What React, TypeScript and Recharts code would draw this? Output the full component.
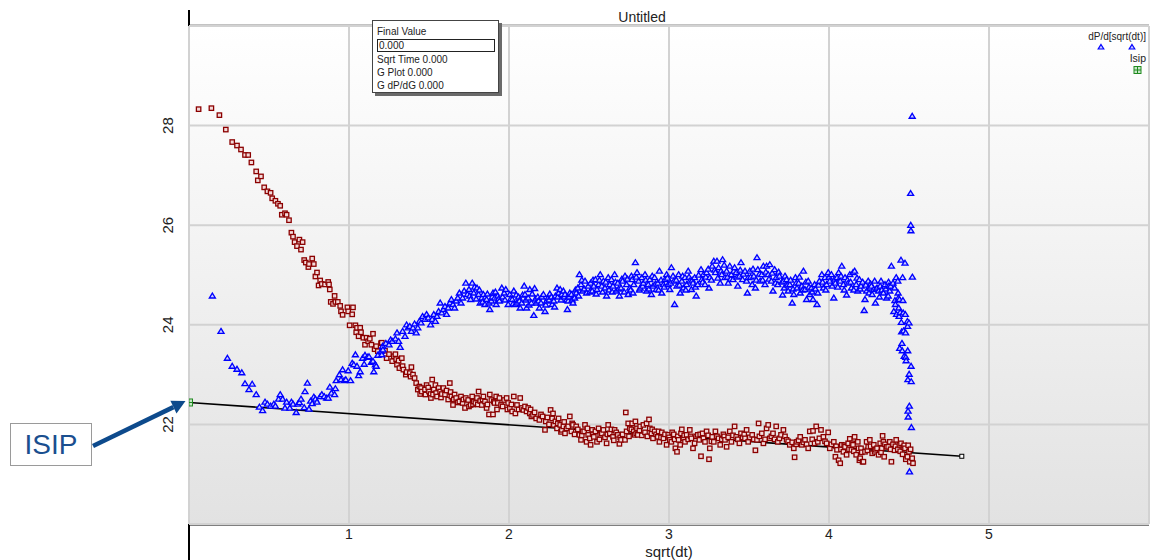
import React from 'react';
import { ScatterChart, Scatter, XAxis, YAxis, CartesianGrid } from 'recharts';

const pressurePoints: [number, number][] = [
  [0.06,28.33],[0.14,28.35],[0.19,28.21],[0.23,27.92],[0.27,27.67],[0.30,27.6],[0.325,27.52],[0.35,27.41],[0.37,27.41],[0.39,27.26],[0.42,27.08],[0.43,26.9],[0.45,26.98],[0.47,26.76],[0.49,26.68],[0.51,26.65],[0.52,26.54],[0.54,26.49],[0.556,26.43],[0.57,26.39],[0.58,26.21],[0.60,26.24],[0.61,26.21],[0.625,26.1],[0.64,25.85],[0.65,25.77],[0.66,25.66],[0.675,25.58],[0.69,25.71],[0.70,25.51],[0.71,25.66],
  [0.72,25.30],[0.73,25.25],[0.746,25.16],[0.75,25.22],[0.77,25.33],[0.78,25.22],[0.79,24.97],[0.80,25.05],[0.81,24.79],[0.82,24.89],[0.83,24.82],[0.85,24.81],[0.87,24.86],[0.875,24.81],[0.88,24.71],[0.886,24.46],[0.90,24.42],[0.91,24.58],[0.915,24.46],[0.93,24.46],[0.945,24.38],[0.95,24.27],[0.96,24.2],[0.99,24.35],[0.995,24.27],[1.004,23.99],[1.02,24.21],[1.025,24.35],[1.04,23.99],[1.045,23.85],[1.05,23.94],[1.06,23.77],[1.07,23.94],[1.075,23.85],[1.09,23.74],[1.10,23.6],[1.11,23.74],[1.12,23.67],[1.13,23.72],[1.14,23.6],[1.15,23.82],[1.16,23.51],[1.17,23.57],[1.18,23.47],[1.20,23.63],[1.205,23.64],[1.225,23.48],[1.235,23.33],[1.25,23.41],[1.27,23.27],[1.28,23.37],[1.29,23.41],[1.295,23.31],[1.30,23.2],[1.31,23.28],[1.315,23.13],[1.33,23.33],[1.335,23.17],[1.34,23.1],[1.355,23.0],[1.36,23.05],[1.38,23.03],[1.385,22.96],[1.39,23.15],[1.40,23.0],[1.41,22.93],
  [1.42,22.83],[1.43,22.7],[1.44,22.76],[1.445,22.61],[1.45,22.73],[1.455,22.66],[1.475,22.7],[1.478,22.6],[1.485,22.79],[1.495,22.74],[1.50,22.66],[1.51,22.61],[1.512,22.53],[1.52,22.9],[1.525,22.6],[1.53,22.7],[1.54,22.79],[1.545,22.63],[1.55,22.56],[1.56,22.73],[1.57,22.66],[1.575,22.54],[1.58,22.61],[1.59,22.73],[1.60,22.6],[1.61,22.68],[1.62,22.5],[1.63,22.83],[1.635,22.65],[1.64,22.56],[1.65,22.39],[1.655,22.5],[1.66,22.6],[1.67,22.53],[1.68,22.44],[1.69,22.46],[1.70,22.56],[1.71,22.43],[1.715,22.5],[1.725,22.33],[1.73,22.53],[1.745,22.49],[1.75,22.36],[1.76,22.39],[1.77,22.56],[1.775,22.4],[1.78,22.46],[1.79,22.43],[1.80,22.53],[1.805,22.4],[1.81,22.66],[1.82,22.47],[1.83,22.39],[1.835,22.5],[1.84,22.56],[1.85,22.46],[1.86,22.33],[1.865,22.4],[1.875,22.2],[1.88,22.6],[1.89,22.49],[1.90,22.2],[1.905,22.46],[1.91,22.43],[1.92,22.56],[1.925,22.3],[1.93,22.43],[1.94,22.53],[1.95,22.39],[1.96,22.36],[1.97,22.49],[1.985,22.53],[1.99,22.3],[1.995,22.43],
  [2.005,22.33],[2.015,22.4],[2.02,22.26],[2.03,22.56],[2.04,22.22],[2.05,22.39],[2.06,22.3],[2.07,22.53],[2.08,22.33],[2.09,22.29],[2.10,22.36],[2.11,22.26],[2.12,22.33],[2.13,22.22],[2.135,22.3],[2.14,22.16],[2.15,22.19],[2.16,22.24],[2.17,22.12],[2.19,22.09],[2.20,22.2],[2.21,22.16],[2.225,21.89],[2.23,22.06],[2.24,22.14],[2.25,22.0],[2.26,22.29],[2.27,22.12],[2.275,22.22],[2.28,21.99],[2.29,22.06],[2.30,21.92],[2.305,22.02],[2.31,22.12],[2.32,21.99],[2.325,21.85],[2.33,21.89],[2.34,21.96],[2.345,22.05],[2.35,21.82],[2.36,21.92],[2.37,21.96],[2.38,22.16],[2.39,21.86],[2.395,22.02],[2.40,21.99],[2.41,21.8],[2.42,21.96],[2.43,21.9],[2.44,21.79],[2.45,21.69],[2.455,21.78],[2.46,21.86],[2.47,21.86],[2.475,21.99],[2.485,21.65],[2.49,21.92],[2.495,21.79],[2.505,21.72],[2.51,21.59],[2.52,21.89],[2.525,21.8],[2.53,21.75],[2.54,21.86],[2.55,21.65],[2.56,21.92],[2.565,21.7],[2.57,21.79],[2.58,21.82],[2.59,21.89],[2.60,21.74],[2.61,21.62],[2.615,21.8],[2.62,21.99],[2.63,21.82],[2.64,21.9],[2.65,21.75],[2.655,21.68],[2.66,21.89],[2.67,21.84],[2.68,21.79],[2.69,21.61],[2.695,21.74],[2.70,21.69],[2.71,21.8],[2.725,21.69],[2.73,22.24],[2.735,21.86],[2.745,22.02],[2.75,21.76],[2.755,21.92],[2.765,21.9],[2.77,22.02],[2.78,21.86],[2.785,21.79],[2.79,22.06],[2.795,21.82],[2.80,21.92],[2.805,21.79],[2.815,21.88],[2.82,21.96],[2.83,21.78],[2.84,21.99],[2.85,21.84],[2.86,22.02],[2.865,21.76],[2.875,22.1],[2.88,21.92],[2.89,21.82],[2.895,21.9],[2.90,21.72],[2.91,21.86],[2.92,21.8],[2.93,21.75],[2.935,21.86],[2.94,21.65],[2.95,21.74],[2.955,21.84],[2.965,21.72],[2.975,21.8],[2.985,21.59],[2.995,21.79],
  [3.0,21.74],[3.005,21.69],[3.015,21.65],[3.02,21.84],[3.03,21.8],[3.035,21.7],[3.04,21.52],[3.05,21.45],[3.055,21.76],[3.06,21.69],[3.07,21.59],[3.075,21.82],[3.08,21.9],[3.09,21.72],[3.095,21.78],[3.10,21.65],[3.11,21.79],[3.12,21.7],[3.13,21.89],[3.135,21.76],[3.14,21.72],[3.15,21.52],[3.16,21.62],[3.17,21.76],[3.18,21.79],[3.19,21.69],[3.195,21.8],[3.20,21.36],[3.21,21.82],[3.215,21.72],[3.225,21.65],[3.235,21.86],[3.245,21.78],[3.25,21.3],[3.255,21.52],[3.265,21.66],[3.27,21.75],[3.28,21.65],[3.29,21.86],[3.30,21.76],[3.31,21.72],[3.32,21.59],[3.33,21.7],[3.34,21.8],[3.345,21.76],[3.35,21.69],[3.36,21.55],[3.37,21.74],[3.38,21.86],[3.39,21.65],[3.40,21.78],[3.41,21.96],[3.42,21.75],[3.43,21.7],[3.44,21.62],[3.45,21.82],[3.46,21.74],[3.47,21.8],[3.475,21.72],[3.485,21.89],[3.495,21.65],[3.505,21.74],[3.52,21.79],[3.53,21.7],[3.54,21.48],[3.55,21.69],[3.56,22.02],[3.565,21.76],[3.58,21.82],[3.59,21.62],[3.60,21.7],[3.61,21.92],[3.62,21.99],[3.63,21.72],[3.64,21.76],[3.65,21.82],[3.66,21.7],[3.67,21.96],[3.68,21.65],[3.69,21.72],[3.70,21.79],[3.715,21.89],[3.725,21.76],[3.735,21.69],[3.745,21.66],[3.755,21.59],[3.77,21.64],[3.78,21.52],[3.785,21.34],[3.795,21.6],[3.80,21.65],[3.81,21.68],[3.82,21.75],[3.83,21.59],[3.84,21.64],[3.85,21.69],[3.86,21.6],[3.87,21.52],[3.88,21.86],[3.895,21.7],[3.90,21.87],[3.91,21.62],[3.92,21.96],[3.93,21.65],[3.94,21.72],[3.95,21.89],[3.965,21.75],[3.975,21.66],[3.985,21.62],[3.995,21.84],
  [4.005,21.52],[4.015,21.6],[4.03,21.65],[4.04,21.35],[4.045,21.56],[4.05,21.49],[4.06,21.28],[4.07,21.22],[4.075,21.5],[4.08,21.59],[4.09,21.45],[4.095,21.58],[4.10,21.55],[4.11,21.39],[4.12,21.62],[4.125,21.5],[4.13,21.71],[4.14,21.49],[4.145,21.62],[4.15,21.59],[4.155,21.46],[4.16,21.75],[4.17,21.39],[4.18,21.65],[4.185,21.52],[4.19,21.28],[4.195,21.32],[4.20,21.52],[4.205,21.44],[4.21,21.25],[4.215,21.25],[4.225,21.45],[4.235,21.65],[4.24,21.48],[4.245,21.55],[4.255,21.69],[4.26,21.56],[4.27,21.42],[4.28,21.59],[4.285,21.45],[4.29,21.49],[4.30,21.52],[4.31,21.39],[4.32,21.62],[4.325,21.44],[4.33,21.52],[4.335,21.77],[4.34,21.65],[4.345,21.35],[4.35,21.6],[4.36,21.55],[4.37,21.55],[4.38,21.65],[4.385,21.5],[4.39,21.25],[4.40,21.6],[4.41,21.48],[4.415,21.56],[4.42,21.69],[4.43,21.5],[4.44,21.59],[4.445,21.46],[4.45,21.62],[4.46,21.4],[4.465,21.54],[4.47,21.58],[4.475,21.52],[4.48,21.3],[4.49,21.35],[4.495,21.58],[4.50,21.45],[4.505,21.25],[4.51,21.5],[4.52,21.32],[4.525,21.22]
];

const derivativePoints: [number, number][] = [
  [0.146,24.58],[0.20,23.87],[0.24,23.33],[0.27,23.17],[0.30,23.11],[0.33,23.04],[0.35,22.82],[0.375,22.70],[0.395,22.81],[0.42,22.60],[0.44,22.35],[0.46,22.28],[0.475,22.45],[0.49,22.41],[0.51,22.37],[0.53,22.41],[0.54,22.37],[0.56,22.51],[0.57,22.6],[0.585,22.51],[0.60,22.33],[0.61,22.45],[0.63,22.33],[0.64,22.45],[0.65,22.41],[0.67,22.24],[0.68,22.41],[0.69,22.44],[0.70,22.51],[0.72,22.34],[0.725,22.66],[0.74,22.83],[0.75,22.31],[0.76,22.47],[0.77,22.42],[0.78,22.55],[0.79,22.51],[0.80,22.45],[0.82,22.56],[0.83,22.6],[0.845,22.56],[0.86,22.53],[0.87,22.53],[0.88,22.75],[0.89,22.63],[0.91,22.6],[0.915,22.72],[0.92,22.88],[0.94,23.0],[0.95,22.9],[0.96,23.1],[0.97,22.88],[0.98,22.9],[0.995,23.08],
  [1.01,22.88],[1.02,23.23],[1.03,23.2],[1.04,23.4],[1.05,23.17],[1.06,22.98],[1.07,23.06],[1.085,23.33],[1.095,23.21],[1.10,23.39],[1.115,23.35],[1.125,23.36],[1.14,23.25],[1.15,23.27],[1.155,23.06],[1.165,23.2],[1.17,23.17],[1.18,23.39],[1.20,23.47],[1.205,23.4],[1.21,23.57],[1.212,23.5],[1.23,23.63],[1.25,23.6],[1.26,23.7],[1.27,23.67],[1.29,23.72],[1.30,23.84],[1.31,23.67],[1.32,23.55],[1.335,23.87],[1.35,23.77],[1.36,24.0],[1.37,23.94],[1.38,23.97],[1.39,23.87],[1.40,23.94],[1.41,24.02],[1.42,23.84],[1.43,23.94],[1.44,24.07],[1.45,24.04],[1.46,24.17],[1.475,24.11],[1.485,24.21],[1.495,24.14],[1.51,24.0],[1.52,24.11],[1.53,24.21],[1.54,24.07],[1.55,24.17],[1.56,24.27],[1.57,24.44],[1.58,24.24],[1.59,24.31],[1.60,24.37],[1.61,24.21],[1.62,24.34],[1.63,24.44],[1.64,24.51],[1.65,24.41],[1.66,24.34],[1.67,24.48],[1.68,24.54],[1.69,24.64],[1.70,24.44],[1.71,24.54],[1.72,24.68],[1.73,24.84],[1.74,24.61],[1.75,24.71],[1.755,24.58],[1.76,24.51],[1.77,24.84],[1.78,24.64],[1.785,24.76],[1.795,24.52],[1.80,24.74],[1.81,24.61],[1.815,24.7],[1.82,24.44],[1.83,24.54],[1.835,24.46],[1.84,24.61],[1.85,24.41],[1.86,24.51],[1.865,24.62],[1.875,24.44],[1.88,24.31],[1.89,24.48],[1.895,24.56],[1.90,24.64],[1.91,24.54],[1.915,24.66],[1.92,24.41],[1.93,24.58],[1.935,24.52],[1.94,24.48],[1.955,24.74],[1.96,24.56],[1.97,24.64],[1.975,24.5],[1.98,24.71],[1.995,24.41],
  [2.005,24.61],[2.01,24.52],[2.02,24.51],[2.025,24.42],[2.03,24.68],[2.04,24.41],[2.045,24.6],[2.05,24.44],[2.06,24.56],[2.065,24.48],[2.07,24.34],[2.08,24.44],[2.085,24.6],[2.095,24.78],[2.10,24.61],[2.105,24.5],[2.11,24.34],[2.12,24.54],[2.125,24.4],[2.13,24.71],[2.14,24.44],[2.145,24.62],[2.155,24.19],[2.16,24.73],[2.165,24.52],[2.17,24.44],[2.18,24.56],[2.185,24.48],[2.19,24.34],[2.20,24.44],[2.205,24.56],[2.215,24.61],[2.225,24.27],[2.23,24.4],[2.235,24.48],[2.245,24.54],[2.25,24.5],[2.255,24.62],[2.265,24.56],[2.27,24.41],[2.28,24.48],[2.285,24.36],[2.29,24.58],[2.30,24.74],[2.305,24.56],[2.31,24.64],[2.32,24.71],[2.325,24.5],[2.33,24.61],[2.34,24.68],[2.345,24.56],[2.35,24.61],[2.36,24.5],[2.365,24.31],[2.37,24.48],[2.375,24.56],[2.38,24.64],[2.39,24.61],[2.395,24.5],[2.40,24.44],[2.41,24.54],[2.415,24.7],[2.42,24.64],[2.43,24.74],[2.435,24.58],[2.44,25.01],[2.45,24.81],[2.455,24.9],[2.46,24.68],[2.47,24.72],[2.475,24.88],[2.485,24.64],[2.495,24.78],[2.505,24.66],[2.51,24.84],[2.52,24.68],[2.525,24.9],[2.53,24.78],[2.54,24.91],[2.545,24.62],[2.55,24.71],[2.56,24.81],[2.565,24.9],[2.57,25.01],[2.58,24.78],[2.585,24.66],[2.59,24.88],[2.60,24.74],[2.605,24.86],[2.61,24.58],[2.62,24.95],[2.625,24.7],[2.63,24.81],[2.64,24.91],[2.645,24.66],[2.65,24.78],[2.66,25.01],[2.665,24.86],[2.67,24.68],[2.68,24.84],[2.685,24.72],[2.69,24.58],[2.70,24.74],[2.705,24.92],[2.71,24.88],[2.72,24.66],[2.725,24.98],[2.735,24.81],[2.74,24.92],[2.745,24.61],[2.755,24.74],[2.76,24.7],[2.765,24.98],[2.77,24.91],[2.775,24.64],[2.78,24.81],[2.79,25.25],[2.795,24.96],[2.80,25.05],[2.81,24.88],[2.815,24.7],[2.82,24.74],[2.83,24.95],[2.835,24.78],[2.84,24.84],[2.85,25.01],[2.855,24.9],[2.86,24.68],[2.87,24.81],[2.875,24.72],[2.88,24.91],[2.89,24.61],[2.895,24.98],[2.90,24.78],[2.91,24.95],[2.915,24.82],[2.92,24.71],[2.93,24.84],[2.935,24.7],[2.94,25.08],[2.95,24.9],[2.955,24.64],[2.965,24.81],[2.97,24.76],[2.975,24.91],[2.985,25.01],[2.99,24.94],[2.995,24.81],
  [3.005,24.71],[3.01,24.84],[3.015,25.15],[3.025,24.98],[3.03,24.88],[3.035,24.41],[3.045,24.9],[3.05,24.78],[3.06,25.01],[3.065,24.8],[3.07,24.64],[3.08,24.88],[3.085,24.98],[3.09,24.74],[3.10,24.95],[3.105,24.7],[3.11,24.81],[3.12,25.08],[3.125,24.96],[3.13,24.88],[3.14,24.71],[3.145,24.9],[3.15,24.84],[3.16,24.95],[3.165,24.76],[3.17,24.58],[3.18,24.81],[3.185,25.0],[3.20,25.11],[3.205,24.91],[3.21,24.86],[3.215,25.01],[3.225,24.81],[3.23,24.96],[3.235,25.05],[3.245,25.12],[3.25,24.74],[3.255,24.95],[3.265,24.9],[3.27,25.18],[3.28,25.28],[3.285,25.1],[3.29,25.05],[3.30,25.28],[3.305,24.94],[3.31,25.15],[3.32,24.84],[3.325,25.08],[3.33,25.01],[3.335,25.31],[3.345,25.2],[3.35,24.95],[3.36,25.08],[3.365,24.96],[3.37,24.84],[3.38,25.18],[3.385,24.92],[3.39,25.01],[3.40,24.91],[3.405,25.08],[3.41,25.15],[3.42,25.05],[3.425,24.96],[3.43,24.78],[3.44,24.98],[3.445,25.1],[3.45,25.25],[3.46,24.91],[3.465,25.02],[3.475,25.08],[3.485,24.88],[3.49,24.64],[3.495,24.95],[3.505,25.08],[3.51,24.96],[3.52,24.81],[3.525,25.12],[3.53,24.98],[3.54,24.74],[3.545,24.9],[3.55,25.35],[3.555,25.11],[3.565,25.02],[3.57,24.88],[3.58,25.01],[3.585,24.9],[3.59,25.18],[3.60,24.81],[3.605,25.06],[3.61,25.18],[3.62,25.01],[3.625,24.92],[3.63,25.21],[3.64,24.88],[3.645,25.04],[3.65,24.68],[3.66,25.11],[3.665,24.84],[3.67,24.95],[3.68,24.81],[3.685,25.06],[3.69,24.98],[3.705,24.86],[3.71,24.6],[3.715,24.88],[3.72,24.74],[3.725,24.98],[3.735,24.91],[3.74,24.8],[3.745,24.68],[3.755,24.81],[3.76,24.9],[3.77,24.44],[3.775,24.72],[3.78,24.61],[3.79,24.95],[3.795,24.84],[3.80,24.74],[3.81,24.84],[3.815,24.96],[3.82,24.64],[3.83,24.78],[3.835,24.7],[3.84,25.08],[3.85,24.71],[3.855,24.86],[3.86,24.51],[3.87,24.88],[3.875,24.76],[3.88,24.61],[3.89,24.74],[3.895,24.66],[3.90,24.51],[3.91,24.81],[3.915,24.72],[3.925,24.41],[3.93,24.64],[3.935,24.8],[3.94,24.88],[3.955,25.01],[3.96,24.86],[3.965,24.74],[3.975,24.95],[3.98,24.7],[3.985,24.81],[3.995,25.05],
  [4.0,24.96],[4.005,24.88],[4.015,25.01],[4.02,24.78],[4.03,24.54],[4.035,24.92],[4.04,24.84],[4.05,24.95],[4.055,24.76],[4.06,25.05],[4.07,24.88],[4.075,24.98],[4.08,25.18],[4.09,24.81],[4.095,24.7],[4.10,24.95],[4.11,24.6],[4.115,24.9],[4.12,24.84],[4.13,25.01],[4.135,24.86],[4.14,24.74],[4.15,25.05],[4.155,24.7],[4.16,25.08],[4.17,24.81],[4.175,24.94],[4.18,24.68],[4.19,24.91],[4.195,24.72],[4.20,24.78],[4.21,24.86],[4.22,24.29],[4.225,24.51],[4.23,24.8],[4.235,24.68],[4.245,24.88],[4.25,24.64],[4.255,24.74],[4.26,24.82],[4.265,24.78],[4.27,24.61],[4.28,24.71],[4.285,24.88],[4.29,24.44],[4.295,24.72],[4.30,24.74],[4.31,24.68],[4.315,24.56],[4.32,24.78],[4.325,24.88],[4.33,24.7],[4.34,24.64],[4.35,24.81],[4.355,24.72],[4.36,24.54],[4.37,24.58],[4.372,24.86],[4.375,24.78],[4.38,24.68],[4.385,24.78],[4.39,25.18],[4.40,24.84],[4.405,24.27],[4.41,24.74],[4.412,24.49],[4.415,24.41],[4.42,24.95],[4.422,24.21],[4.43,24.88],[4.432,24.64],[4.434,24.54],[4.436,24.34],[4.438,24.17],[4.44,24.51],[4.442,23.53],[4.445,24.25],[4.45,25.3],[4.452,24.05],[4.454,23.86],[4.456,23.63],[4.458,23.48],[4.46,24.95],[4.462,24.49],[4.464,24.24],[4.466,23.88],[4.47,23.37],[4.475,25.24],[4.477,24.21],[4.479,23.84],[4.48,23.35],[4.482,23.28],[4.49,24.07],[4.491,23.97],[4.492,23.48],[4.493,22.9],[4.494,22.27],[4.495,22.15],[4.50,24.04],[4.501,23.01],[4.502,22.37],[4.503,21.05],[4.51,26.64],[4.511,26.0],[4.512,25.89],[4.513,23.17],[4.514,22.86],[4.515,21.94],[4.52,28.19],[4.521,24.96]
];

const fitLine: [number, number][] = [[0, 22.44], [4.83, 21.36]];
const fitEnd: [number, number][] = [[4.83, 21.36]];
const isipPoint: [number, number][] = [[0, 22.44]];
const xTicks = [1, 2, 3, 4, 5];
const yTicks = [22, 24, 26, 28];
const infoLines = ['Sqrt Time 0.000', 'G Plot 0.000', 'G dP/dG 0.000'];
const seriesNames = ['dP/d[sqrt(dt)]', 'Isip'];

const toObj = (arr: [number, number][]) => arr.map(([x, y]) => ({ x, y }));
const FONT = '"Liberation Sans", Arial, sans-serif';

const RedSquare = (p: any) => (
  <rect x={p.cx - 2.2} y={p.cy - 2.2} width={4.4} height={4.4} fill="#f3dada" stroke="#8b0000" strokeWidth={1.3} />
);
const BlueTri = (p: any) => (
  <polygon
    points={`${p.cx},${p.cy - 2.8} ${p.cx + 3},${p.cy + 2.1} ${p.cx - 3},${p.cy + 2.1}`}
    fill="#c9cdff"
    stroke="#0000ff"
    strokeWidth={1.35}
  />
);
const EmptyShape = () => <g />;
const OpenSquare = (p: any) => (
  <rect x={p.cx - 2} y={p.cy - 2} width={4} height={4} fill="#ffffff" stroke="#000" strokeWidth={1} />
);
const GreenMark = (p: any) => (
  <g>
    <rect x={p.cx - 3.5} y={p.cy - 3.5} width={7} height={7} fill="#c8e6c8" stroke="#1f8a1f" strokeWidth={1} />
    <line x1={p.cx} y1={p.cy - 3.5} x2={p.cx} y2={p.cy + 3.5} stroke="#1f8a1f" strokeWidth={1} />
    <line x1={p.cx - 3.5} y1={p.cy} x2={p.cx + 3.5} y2={p.cy} stroke="#1f8a1f" strokeWidth={1} />
  </g>
);

const YTick = (p: any) => (
  <text
    x={168}
    y={p.y}
    transform={`rotate(-90, 168, ${p.y})`}
    textAnchor="middle"
    dominantBaseline="central"
    fontSize={15}
    fontFamily={FONT}
    fill="#222"
  >
    {p.payload.value}
  </text>
);
const XTick = (p: any) => (
  <text x={p.x} y={539} textAnchor="middle" fontSize={14} fontFamily={FONT} fill="#222">
    {p.payload.value}
  </text>
);

export default function App() {
  return (
    <div style={{ position: 'absolute', left: 0, top: 0, width: 1150, height: 560, background: '#fff', fontFamily: FONT }}>
      <div
        style={{
          position: 'absolute', left: 189, top: 26, width: 960, height: 498,
          background: 'linear-gradient(to bottom, #ffffff 0%, #f1f1f1 50%, #e2e2e2 100%)',
        }}
      />
      <svg width={1150} height={560} style={{ position: 'absolute', left: 0, top: 0 }}>
        <line x1={189} y1={10} x2={189} y2={560} stroke="#000" strokeWidth={2} />
        <line x1={189} y1={25.5} x2={1149} y2={25.5} stroke="#111" strokeWidth={1.5} />
        <line x1={189} y1={524.5} x2={1149} y2={524.5} stroke="#000" strokeWidth={2} />
      </svg>
      <div style={{ position: 'absolute', left: 0, top: 0 }}>
        <ScatterChart width={1150} height={560} margin={{ top: 26, right: 1, bottom: 0, left: 0 }}>
          <CartesianGrid stroke="#d2d2d2" strokeWidth={2} />
          <XAxis
            type="number"
            dataKey="x"
            domain={[0, 6]}
            ticks={xTicks}
            height={36}
            axisLine={false}
            tickLine={false}
            tick={<XTick />}
            allowDataOverflow
          />
          <YAxis
            type="number"
            dataKey="y"
            domain={[20, 30]}
            ticks={yTicks}
            width={189}
            axisLine={false}
            tickLine={false}
            tick={<YTick />}
            allowDataOverflow
          />
          <Scatter data={toObj(fitLine)} line={{ stroke: '#000', strokeWidth: 1.6 }} shape={<EmptyShape />} isAnimationActive={false} />
          <Scatter data={toObj(pressurePoints)} shape={<RedSquare />} isAnimationActive={false} />
          <Scatter data={toObj(derivativePoints)} shape={<BlueTri />} isAnimationActive={false} />
          <Scatter data={toObj(fitEnd)} shape={<OpenSquare />} isAnimationActive={false} />
          <Scatter data={toObj(isipPoint)} shape={<GreenMark />} isAnimationActive={false} />
        </ScatterChart>
      </div>
      <svg width={1150} height={560} style={{ position: 'absolute', left: 0, top: 0, pointerEvents: 'none' }}>
        <text x={642} y={22} textAnchor="middle" fontSize={14} fontFamily={FONT} fill="#222">Untitled</text>
        <text x={669} y={557} textAnchor="middle" fontSize={15} fontFamily={FONT} fill="#222">sqrt(dt)</text>
        <text x={1146} y={40} textAnchor="end" fontSize={10} fontFamily={FONT} fill="#222">{seriesNames[0]}</text>
        <polygon points="1101,44.5 1103.8,49 1098.2,49" fill="#c9cdff" stroke="#0000ff" strokeWidth={1.2} />
        <polygon points="1132,44.5 1134.8,49 1129.2,49" fill="#c9cdff" stroke="#0000ff" strokeWidth={1.2} />
        <text x={1146} y={62} textAnchor="end" fontSize={10.5} fontFamily={FONT} fill="#222">{seriesNames[1]}</text>
        <rect x={1134} y={66.5} width={7} height={7} fill="#c8e6c8" stroke="#1f8a1f" strokeWidth={1} />
        <line x1={1137.5} y1={66.5} x2={1137.5} y2={73.5} stroke="#1f8a1f" strokeWidth={1} />
        <line x1={1134} y1={70} x2={1141} y2={70} stroke="#1f8a1f" strokeWidth={1} />
        <line x1={93} y1={446} x2={173.4} y2={407.1} stroke="#0d4a8c" strokeWidth={4.5} />
        <polygon points="185.5,401 176.5,413.4 170.4,400.8" fill="#0d4a8c" />
      </svg>
      <div
        style={{
          position: 'absolute', left: 10, top: 423, width: 82, height: 43, border: '1px solid #9a9a9a',
          background: '#fff', boxSizing: 'border-box', display: 'flex', alignItems: 'center', justifyContent: 'center',
          color: '#1a4f8f', fontSize: 28, fontFamily: FONT, lineHeight: 1,
        }}
      >
        ISIP
      </div>
      <div
        style={{
          position: 'absolute', left: 372, top: 20, width: 127, height: 73, border: '1px solid #444',
          background: '#fff', boxSizing: 'border-box', boxShadow: '3px 3px 0 #6a6a6a',
          fontSize: 10, fontFamily: FONT, color: '#222', lineHeight: '13px', padding: '4px 0 0 4px',
        }}
      >
        <div style={{ height: 13 }}>Final Value</div>
        <div style={{ border: '1px solid #222', width: 118, height: 13, boxSizing: 'border-box', lineHeight: '11px', paddingLeft: 1, margin: '1px 0 1px 0' }}>0.000</div>
        {infoLines.map((t) => (
          <div key={t} style={{ height: 13 }}>{t}</div>
        ))}
      </div>
    </div>
  );
}
